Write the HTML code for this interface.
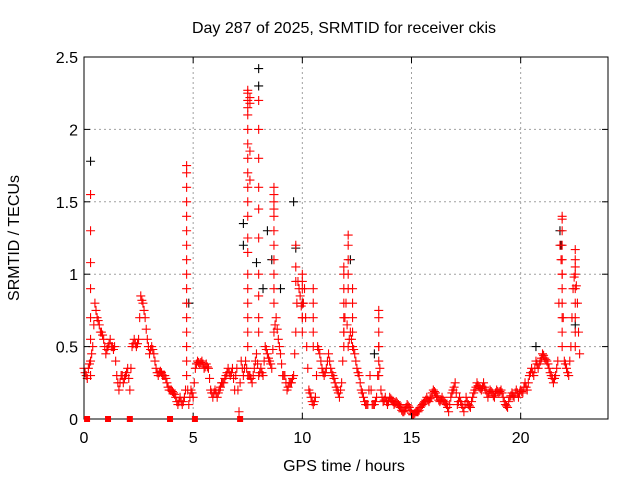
<!DOCTYPE html>
<html><head><meta charset="utf-8"><style>
body{margin:0;background:#fff;}
svg text{font-family:"Liberation Sans",sans-serif;font-size:16px;fill:#000;}
</style></head><body>
<svg id="chart" width="640" height="480" xmlns="http://www.w3.org/2000/svg">
<text x="344" y="33" text-anchor="middle">Day 287 of 2025, SRMTID for receiver ckis</text>
<text x="344" y="471" text-anchor="middle">GPS time / hours</text>
<text transform="translate(19,238) rotate(-90)" text-anchor="middle">SRMTID / TECUs</text>
<g id="grid"></g>
<g id="black"></g>
<g id="red"></g>
<rect x="84" y="57" width="524" height="362" fill="none" stroke="#000" stroke-width="1"/>
<g id="ticks"></g>
<g id="zeros"></g>
</svg>
<script>
const xTicks=[0,5,10,15,20];
const yTicks=[0,0.5,1,1.5,2,2.5];
const yTickLabels=["0","0.5","1","1.5","2","2.5"];
const baseStart=0, baseStep=0.1, halfStart=0.05;
const redBase=[0.35,0.3,0.35,0.3,0.5,0.8,0.7,0.65,0.6,0.55,0.45,0.5,0.55,0.5,0.5,0.3,0.2,0.3,0.25,0.3,
0.35,0.2,0.5,0.55,0.5,0.55,0.85,0.8,0.7,0.55,0.45,0.5,0.45,0.35,0.3,0.33,0.3,0.3,0.25,0.2,
0.2,0.18,0.15,0.1,0.15,0.1,0.15,0.3,0.1,0.2,0.15,0.35,0.4,0.38,0.4,0.35,0.38,0.35,0.2,0.15,
0.2,0.15,0.2,0.25,0.25,0.3,0.35,0.3,0.35,0.2,0.35,0.05,0.4,0.3,0.4,0.3,0.3,0.25,0.35,0.45,
0.3,0.35,0.3,0.5,0.45,0.4,0.35,0.6,0.7,0.55,0.45,0.3,0.3,0.2,0.25,0.25,0.3,0.6,0.95,0.85,
0.7,0.9,0.5,0.2,0.15,0.1,0.15,0.5,0.45,0.35,0.3,0.35,0.45,0.35,0.3,0.25,0.2,0.15,0.25,0.6,
0.8,0.5,0.6,0.5,0.45,0.35,0.3,0.2,0.15,0.1,0.1,0.3,0.1,0.1,0.15,0.5,0.2,0.12,0.15,0.1,
0.15,0.13,0.1,0.12,0.1,0.08,0.05,0.06,0.1,0.08,0.04,0.03,0.05,0.05,0.08,0.1,0.12,0.15,0.12,0.15,
0.2,0.18,0.15,0.12,0.15,0.12,0.1,0.05,0.15,0.2,0.25,0.1,0.15,0.1,0.05,0.15,0.1,0.08,0.15,0.2,
0.25,0.22,0.2,0.25,0.2,0.15,0.2,0.18,0.15,0.2,0.18,0.2,0.15,0.1,0.08,0.15,0.18,0.15,0.2,0.15,
0.2,0.18,0.25,0.2,0.3,0.35,0.3,0.4,0.35,0.4,0.45,0.42,0.4,0.35,0.3,0.25,0.3,0.4,1.2,1.0,
0.4,0.35,0.3,0.5,0.9,1.05,0.8,0.45];
const redHalf=[0.32,0.28,0.38,0.45,0.65,0.75,0.68,0.6,0.58,0.5,
0.48,0.52,0.5,0.48,0.4,0.25,0.25,0.3,0.28,0.32,
0.28,0.35,0.52,0.52,0.52,0.7,0.82,0.75,0.62,0.5,
0.48,0.48,0.4,0.32,0.32,0.32,0.3,0.28,0.22,0.2,
0.19,0.17,0.12,0.12,0.12,0.12,0.2,0.2,0.15,0.18,
0.25,0.38,0.39,0.39,0.38,0.36,0.36,0.28,0.18,0.18,
0.18,0.18,0.22,0.25,0.28,0.32,0.32,0.32,0.28,0.3,
0.2,0.25,0.35,0.35,0.35,0.3,0.28,0.3,0.4,0.38,
0.32,0.32,0.4,0.48,0.42,0.38,0.48,0.65,0.62,0.5,
0.38,0.3,0.25,0.22,0.25,0.28,0.45,0.8,0.9,0.78,
0.8,0.7,0.35,0.18,0.12,0.12,0.3,0.48,0.4,0.32,
0.32,0.4,0.4,0.32,0.28,0.22,0.18,0.2,0.4,0.7,
0.65,0.55,0.55,0.48,0.4,0.32,0.25,0.18,0.12,0.1,
0.2,0.2,0.1,0.12,0.3,0.35,0.15,0.13,0.12,0.12,
0.14,0.12,0.11,0.11,0.09,0.06,0.05,0.08,0.09,0.06,
0.03,0.04,0.05,0.06,0.09,0.11,0.13,0.13,0.14,0.18,
0.19,0.16,0.13,0.13,0.13,0.11,0.08,0.1,0.18,0.22,
0.18,0.12,0.12,0.08,0.1,0.12,0.09,0.12,0.18,0.22,
0.23,0.21,0.22,0.22,0.18,0.18,0.19,0.16,0.18,0.19,
0.19,0.18,0.12,0.09,0.12,0.16,0.16,0.18,0.18,0.18,
0.19,0.22,0.22,0.25,0.32,0.32,0.35,0.38,0.38,0.42,
0.44,0.41,0.38,0.32,0.28,0.28,0.35,0.8,1.1,0.7,
0.38,0.32,0.4,0.7,0.98,0.92,0.6];
const spikeT=[0.3,0.3,0.3,0.3,0.3,0.3,0.3,
4.7,4.7,4.7,4.7,4.7,4.7,4.7,4.7,4.7,4.7,4.7,4.7,4.7,4.7,4.7,
7.5,7.5,7.5,7.5,7.5,7.5,7.5,7.5,7.5,7.5,7.5,7.5,7.5,7.5,7.5,7.5,7.5,7.5,7.5,7.5,
7.6,7.6,7.6,7.6,
8.0,8.0,8.0,8.0,8.0,8.0,8.0,8.0,8.0,8.0,
8.7,8.7,8.7,8.7,8.7,8.7,8.7,8.7,8.7,8.7,8.7,
9.7,9.7,9.7,10.0,10.0,10.0,10.0,10.0,10.0,
10.5,10.5,10.5,10.5,10.5,
11.9,11.9,11.9,11.9,11.9,11.9,11.9,
12.1,12.1,12.1,12.1,12.1,12.3,12.3,12.3,12.3,
13.5,13.5,13.5,13.5,13.5,13.5,
21.9,21.9,21.9,21.9,21.9,21.9,21.9,21.9,21.9,21.9,21.9,
22.5,22.5,22.5,22.5,22.5,22.5,22.5,22.5];
const spikeV=[1.55,1.3,1.08,0.9,0.7,0.55,0.4,
1.75,1.7,1.6,1.5,1.4,1.3,1.2,1.1,1.0,0.9,0.8,0.7,0.6,0.5,0.4,
2.27,2.25,2.2,2.15,2.1,2.0,1.9,1.8,1.7,1.6,1.5,1.4,1.25,1.15,1.0,0.9,0.8,0.7,0.6,0.5,
2.22,2.18,1.85,1.65,
2.2,2.0,1.8,1.6,1.45,1.25,1.0,0.85,0.7,0.6,
1.6,1.55,1.5,1.45,1.4,1.3,1.2,1.1,1.0,0.9,0.8,
1.2,1.05,0.95,1.0,0.95,0.9,0.8,0.7,0.6,
0.9,0.8,0.7,0.6,0.5,
1.05,1.0,0.9,0.8,0.7,0.6,0.5,
1.27,1.2,1.1,1.0,0.9,0.9,0.8,0.7,0.6,
0.75,0.7,0.6,0.5,0.4,0.3,
1.4,1.38,1.3,1.2,1.1,1.0,0.9,0.8,0.7,0.6,0.5,
1.17,1.1,1.0,0.9,0.8,0.7,0.6,0.5];
const zeroT=[0.14,1.1,2.1,3.94,5.08,7.15];
const zeroV=[0,0,0,0,0,0];
const blackT=[0.3,8.0,8.0,9.6,9.7,8.4,8.6,7.3,7.3,21.8,21.85,20.7,12.2,10.0,8.2,13.3,4.8,22.5,7.9,9.0];
const blackV=[1.78,2.42,2.3,1.5,1.18,1.3,1.1,1.35,1.2,1.3,1.2,0.5,1.1,0.8,0.9,0.45,0.8,0.65,1.08,0.9];

const X0=84,X1=608,Y0=419,Y1=57,XMAX=24,YMAX=2.5;
const sx=t=>X0+(X1-X0)*t/XMAX;
const sy=v=>Y0-(Y0-Y1)*v/YMAX;
const NS="http://www.w3.org/2000/svg";
function mk(tag,parent,attrs){const e=document.createElementNS(NS,tag);for(const k in attrs)e.setAttribute(k,attrs[k]);parent.appendChild(e);return e;}
const grid=document.getElementById('grid'),ticks=document.getElementById('ticks');
xTicks.forEach(t=>{
  if(t>0){const l=mk('line',grid,{x1:sx(t),x2:sx(t),y1:Y0,y2:Y1,stroke:'#a0a0a0','stroke-dasharray':'2,3'});
  
  }
  mk('line',ticks,{x1:sx(t),x2:sx(t),y1:Y0,y2:Y0-6,stroke:'#000'});
  mk('line',ticks,{x1:sx(t),x2:sx(t),y1:Y1,y2:Y1+6,stroke:'#000'});
  const tx=mk('text',ticks,{x:sx(t),y:Y0+24,'text-anchor':'middle'});tx.textContent=t;
  
  
});
yTicks.forEach((v,i)=>{
  if(v>0&&v<YMAX){const l=mk('line',grid,{x1:X0,x2:X1,y1:sy(v),y2:sy(v),stroke:'#a0a0a0','stroke-dasharray':'2,3'});
  
  }
  mk('line',ticks,{x1:X0,x2:X0+6,y1:sy(v),y2:sy(v),stroke:'#000'});
  mk('line',ticks,{x1:X1,x2:X1-6,y1:sy(v),y2:sy(v),stroke:'#000'});
  const tx=mk('text',ticks,{x:X0-6,y:sy(v)+6,'text-anchor':'end'});tx.textContent=yTickLabels[i];
  
  
});
function plus(g,t,v,c){const x=sx(t),y=sy(v);
  const p=mk('path',g,{d:`M${x-4.5} ${y}H${x+4.5}M${x} ${y-4.5}V${y+4.5}`,stroke:c,'stroke-width':1.1,fill:'none'});
  
  }
const bg=document.getElementById('black'),rg=document.getElementById('red'),zg=document.getElementById('zeros');
blackT.forEach((t,i)=>plus(bg,t,blackV[i],'#000'));
redBase.forEach((v,i)=>plus(rg,baseStart+i*baseStep,v,'#f00'));
redHalf.forEach((v,i)=>plus(rg,halfStart+i*baseStep,v,'#f00'));
spikeT.forEach((t,i)=>plus(rg,t,spikeV[i],'#f00'));
zeroT.forEach((t,i)=>{
  const r=mk('rect',zg,{x:sx(t)-3,y:sy(zeroV[i])-3,width:6,height:6,fill:'#f00'});
  
  
});
</script>
</body></html>
